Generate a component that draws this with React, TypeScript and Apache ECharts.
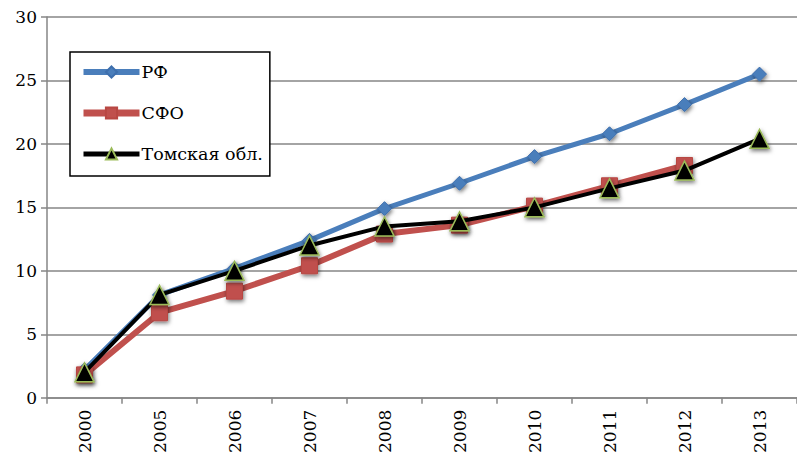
import React, { useEffect, useRef } from "react";
import * as echarts from "echarts";

const categories = ["2000", "2005", "2006", "2007", "2008", "2009", "2010", "2011", "2012", "2013"];
const rfValues = [2.2, 8.1, 10.2, 12.4, 14.9, 16.9, 19.0, 20.8, 23.1, 25.5];
const sfoValues = [1.8, 6.7, 8.4, 10.4, 12.9, 13.6, 15.1, 16.7, 18.3, null];
const tomskValues = [2.0, 8.1, 10.0, 12.0, 13.5, 13.9, 15.0, 16.5, 17.9, 20.4];
const seriesNames = ["РФ", "СФО", "Томская обл."];
const yTicks = { min: 0, max: 30, interval: 5 };

const FONT = "DejaVu Serif";

export default function App() {
  const ref = useRef<HTMLDivElement>(null);
  useEffect(() => {
    if (!ref.current) return;
    const chart = echarts.init(ref.current, undefined, { renderer: "svg" });
    const shadow = { shadowBlur: 4, shadowColor: "rgba(0,0,0,0.55)", shadowOffsetY: 2, shadowOffsetX: 1 };
    chart.setOption({
      animation: false,
      backgroundColor: "#ffffff",
      textStyle: { fontFamily: FONT },
      grid: { left: 47, top: 17, width: 756, bottom: 56, containLabel: false },
      legend: {
        orient: "vertical",
        left: 70,
        top: 52,
        padding: [11, 7, 13, 10],
        itemGap: 23,
        itemWidth: 56,
        itemHeight: 14,
        borderColor: "#000000",
        borderWidth: 1.5,
        backgroundColor: "#ffffff",
        textStyle: { fontFamily: FONT, fontSize: 17.5, color: "#000000", padding: [0, 0, 0, -3] },
        data: [
          { name: seriesNames[0], lineStyle: { width: 6, color: "#4A7EBB" } },
          { name: seriesNames[1], lineStyle: { width: 7, color: "#C0504D" } },
          { name: seriesNames[2], lineStyle: { width: 5, color: "#000000" } },
        ],
      },
      xAxis: {
        type: "category",
        data: categories,
        boundaryGap: true,
        axisLine: { show: true, lineStyle: { color: "#868686", width: 1.5 } },
        axisTick: { show: true, interval: 0, length: 6, lineStyle: { color: "#868686", width: 1.5 } },
        axisLabel: { rotate: 90, interval: 0, margin: 12, fontFamily: FONT, fontSize: 17, color: "#000000" },
        splitLine: { show: false },
      },
      yAxis: {
        type: "value",
        min: yTicks.min,
        max: yTicks.max,
        interval: yTicks.interval,
        axisLine: { show: true, lineStyle: { color: "#868686", width: 1.5 } },
        axisTick: { show: true, length: 6, lineStyle: { color: "#868686", width: 1.5 } },
        axisLabel: { margin: 10, fontFamily: FONT, fontSize: 17, color: "#000000" },
        splitLine: { show: true, lineStyle: { color: "#868686", width: 1.5 } },
      },
      series: [
        {
          name: seriesNames[0],
          type: "line",
          data: rfValues,
          symbol: "diamond",
          symbolSize: 14,
          lineStyle: { color: "#4A7EBB", width: 5 },
          itemStyle: { color: "#4A7EBB", borderColor: "#3E6FAD", borderWidth: 1, ...shadow },
          z: 2,
        },
        {
          name: seriesNames[1],
          type: "line",
          data: sfoValues,
          symbol: "rect",
          symbolSize: 16,
          lineStyle: { color: "#C0504D", width: 6 },
          itemStyle: { color: "#C0504D", borderColor: "#B84743", borderWidth: 1, ...shadow },
          z: 3,
        },
        {
          name: seriesNames[2],
          type: "line",
          data: tomskValues,
          symbol: "triangle",
          symbolSize: 19,
          lineStyle: { color: "#000000", width: 4 },
          itemStyle: { color: "#000000", borderColor: "#9BBB59", borderWidth: 1.5, ...shadow },
          z: 4,
        },
      ],
    });
    return () => chart.dispose();
  }, []);
  return <div ref={ref} style={{ width: 797, height: 456, position: "absolute", left: 0, top: 0 }} />;
}
